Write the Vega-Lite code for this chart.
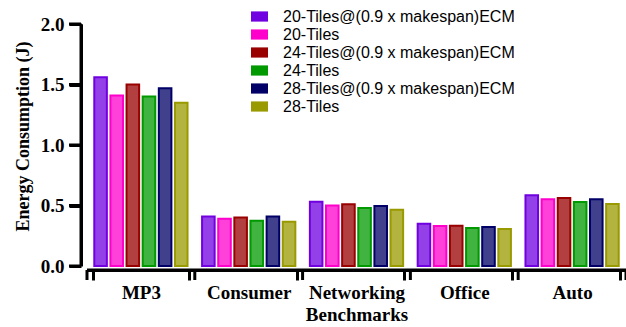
{
  "padding": {"left": 14, "top": 8, "right": 0, "bottom": 2},
  "width": 539,
  "height": 242,
  "datasets": {
    "energy": [
      {"bench": "MP3", "series": "20-Tiles@(0.9 x makespan)ECM", "energy": 1.56},
      {"bench": "MP3", "series": "20-Tiles", "energy": 1.41},
      {"bench": "MP3", "series": "24-Tiles@(0.9 x makespan)ECM", "energy": 1.50},
      {"bench": "MP3", "series": "24-Tiles", "energy": 1.40},
      {"bench": "MP3", "series": "28-Tiles@(0.9 x makespan)ECM", "energy": 1.47},
      {"bench": "MP3", "series": "28-Tiles", "energy": 1.35},
      {"bench": "Consumer", "series": "20-Tiles@(0.9 x makespan)ECM", "energy": 0.41},
      {"bench": "Consumer", "series": "20-Tiles", "energy": 0.39},
      {"bench": "Consumer", "series": "24-Tiles@(0.9 x makespan)ECM", "energy": 0.40},
      {"bench": "Consumer", "series": "24-Tiles", "energy": 0.375},
      {"bench": "Consumer", "series": "28-Tiles@(0.9 x makespan)ECM", "energy": 0.41},
      {"bench": "Consumer", "series": "28-Tiles", "energy": 0.365},
      {"bench": "Networking", "series": "20-Tiles@(0.9 x makespan)ECM", "energy": 0.53},
      {"bench": "Networking", "series": "20-Tiles", "energy": 0.50},
      {"bench": "Networking", "series": "24-Tiles@(0.9 x makespan)ECM", "energy": 0.51},
      {"bench": "Networking", "series": "24-Tiles", "energy": 0.48},
      {"bench": "Networking", "series": "28-Tiles@(0.9 x makespan)ECM", "energy": 0.495},
      {"bench": "Networking", "series": "28-Tiles", "energy": 0.465},
      {"bench": "Office", "series": "20-Tiles@(0.9 x makespan)ECM", "energy": 0.35},
      {"bench": "Office", "series": "20-Tiles", "energy": 0.33},
      {"bench": "Office", "series": "24-Tiles@(0.9 x makespan)ECM", "energy": 0.333},
      {"bench": "Office", "series": "24-Tiles", "energy": 0.314},
      {"bench": "Office", "series": "28-Tiles@(0.9 x makespan)ECM", "energy": 0.322},
      {"bench": "Office", "series": "28-Tiles", "energy": 0.306},
      {"bench": "Auto", "series": "20-Tiles@(0.9 x makespan)ECM", "energy": 0.584},
      {"bench": "Auto", "series": "20-Tiles", "energy": 0.551},
      {"bench": "Auto", "series": "24-Tiles@(0.9 x makespan)ECM", "energy": 0.562},
      {"bench": "Auto", "series": "24-Tiles", "energy": 0.529},
      {"bench": "Auto", "series": "28-Tiles@(0.9 x makespan)ECM", "energy": 0.551},
      {"bench": "Auto", "series": "28-Tiles", "energy": 0.512}
    ],
    "benches": [
      {"bench": "MP3"}, {"bench": "Consumer"}, {"bench": "Networking"}, {"bench": "Office"}, {"bench": "Auto"}
    ],
    "lastBench": [{"bench": "Auto"}],
    "yticks": [{"v": 0}, {"v": 0.5}, {"v": 1}, {"v": 1.5}, {"v": 2}],
    "one": [{"k": 1}]
  },
  "layer": [
    {
      "data": {"name": "energy"},
      "mark": {"type": "bar", "fillOpacity": 0.75, "strokeWidth": 0},
      "encoding": {
        "x": {
          "field": "bench",
          "type": "nominal",
          "sort": ["MP3", "Consumer", "Networking", "Office", "Auto"],
          "scale": {"paddingInner": 0.111, "paddingOuter": 0.0556},
          "axis": {
            "title": "Benchmarks",
            "labelAngle": 0,
            "tickBand": "extent",
            "offset": 4,
            "tickSize": 10,
            "tickWidth": 3,
            "tickColor": "#000000",
            "domainWidth": 3,
            "domainColor": "#000000",
            "labelFont": "Liberation Serif",
            "labelFontWeight": "bold",
            "labelFontSize": 19,
            "labelColor": "black",
            "labelPadding": 3,
            "titleFont": "Liberation Serif",
            "titleFontWeight": "bold",
            "titleFontSize": 19,
            "titleColor": "black",
            "titlePadding": 3
          }
        },
        "xOffset": {
          "field": "series",
          "type": "nominal",
          "sort": ["20-Tiles@(0.9 x makespan)ECM", "20-Tiles", "24-Tiles@(0.9 x makespan)ECM", "24-Tiles", "28-Tiles@(0.9 x makespan)ECM", "28-Tiles"],
          "scale": {"paddingInner": 0.22, "paddingOuter": 0.08}
        },
        "y": {
          "field": "energy",
          "type": "quantitative",
          "scale": {"domain": [0, 2], "nice": false},
          "axis": {
            "title": "Energy Consumption (J)",
            "values": [0, 0.5, 1, 1.5, 2],
            "format": ".1f",
            "grid": false,
            "offset": 6,
            "tickSize": 12,
            "tickWidth": 3,
            "tickColor": "#000000",
            "domainWidth": 3,
            "domainColor": "#000000",
            "labelFont": "Liberation Serif",
            "labelFontWeight": "bold",
            "labelFontSize": 19,
            "labelColor": "black",
            "labelPadding": 5,
            "titleFont": "Liberation Serif",
            "titleFontWeight": "bold",
            "titleFontSize": 18,
            "titleColor": "black",
            "titlePadding": 8,
            "titleY": 112
          }
        },
        "color": {
          "field": "series",
          "type": "nominal",
          "sort": ["20-Tiles@(0.9 x makespan)ECM", "20-Tiles", "24-Tiles@(0.9 x makespan)ECM", "24-Tiles", "28-Tiles@(0.9 x makespan)ECM", "28-Tiles"],
          "scale": {
            "domain": ["20-Tiles@(0.9 x makespan)ECM", "20-Tiles", "24-Tiles@(0.9 x makespan)ECM", "24-Tiles", "28-Tiles@(0.9 x makespan)ECM", "28-Tiles"],
            "range": ["#7000E0", "#FF00CC", "#990000", "#009900", "#000066", "#999900"]
          },
          "legend": {
            "title": null,
            "orient": "none",
            "legendX": 164,
            "legendY": -16,
            "symbolType": "M-1,-0.6H1V0.6H-1Z",
            "symbolSize": 289,
            "symbolOpacity": 1,
            "symbolStrokeWidth": 0,
            "labelFont": "Liberation Sans",
            "labelFontSize": 16,
            "labelColor": "black",
            "labelOffset": 15,
            "labelLimit": 400,
            "rowPadding": 1
          }
        }
      }
    },
    {
      "data": {"name": "energy"},
      "mark": {"type": "bar", "filled": false, "strokeWidth": 2},
      "encoding": {
        "x": {"field": "bench", "type": "nominal", "sort": ["MP3", "Consumer", "Networking", "Office", "Auto"]},
        "xOffset": {
          "field": "series",
          "type": "nominal",
          "sort": ["20-Tiles@(0.9 x makespan)ECM", "20-Tiles", "24-Tiles@(0.9 x makespan)ECM", "24-Tiles", "28-Tiles@(0.9 x makespan)ECM", "28-Tiles"]
        },
        "y": {"field": "energy", "type": "quantitative"},
        "color": {"field": "series", "type": "nominal", "legend": null}
      }
    },
    {
      "data": {"name": "one"},
      "mark": {"type": "rule", "color": "#000000", "strokeWidth": 3, "yOffset": 4},
      "encoding": {"y": {"datum": 0}}
    },
    {
      "data": {"name": "one"},
      "mark": {"type": "rule", "color": "#000000", "strokeWidth": 3},
      "encoding": {"x": {"value": -6}}
    },
    {
      "data": {"name": "yticks"},
      "mark": {"type": "rule", "color": "#000000", "strokeWidth": 3},
      "encoding": {
        "y": {"field": "v", "type": "quantitative"},
        "x": {"value": -6},
        "x2": {"value": -18}
      }
    },
    {
      "data": {"name": "benches"},
      "mark": {"type": "rule", "color": "#000000", "strokeWidth": 3, "xOffset": -6, "yOffset": 4, "y2Offset": 14},
      "encoding": {
        "x": {"field": "bench", "type": "nominal", "sort": ["MP3", "Consumer", "Networking", "Office", "Auto"], "bandPosition": 0},
        "y": {"datum": 0},
        "y2": {"datum": 0}
      }
    },
    {
      "data": {"name": "lastBench"},
      "mark": {"type": "rule", "color": "#000000", "strokeWidth": 3, "xOffset": 6, "yOffset": 4, "y2Offset": 14},
      "encoding": {
        "x": {"field": "bench", "type": "nominal", "sort": ["MP3", "Consumer", "Networking", "Office", "Auto"], "bandPosition": 1},
        "y": {"datum": 0},
        "y2": {"datum": 0}
      }
    }
  ],
  "config": {"view": {"stroke": "transparent"}}
}
